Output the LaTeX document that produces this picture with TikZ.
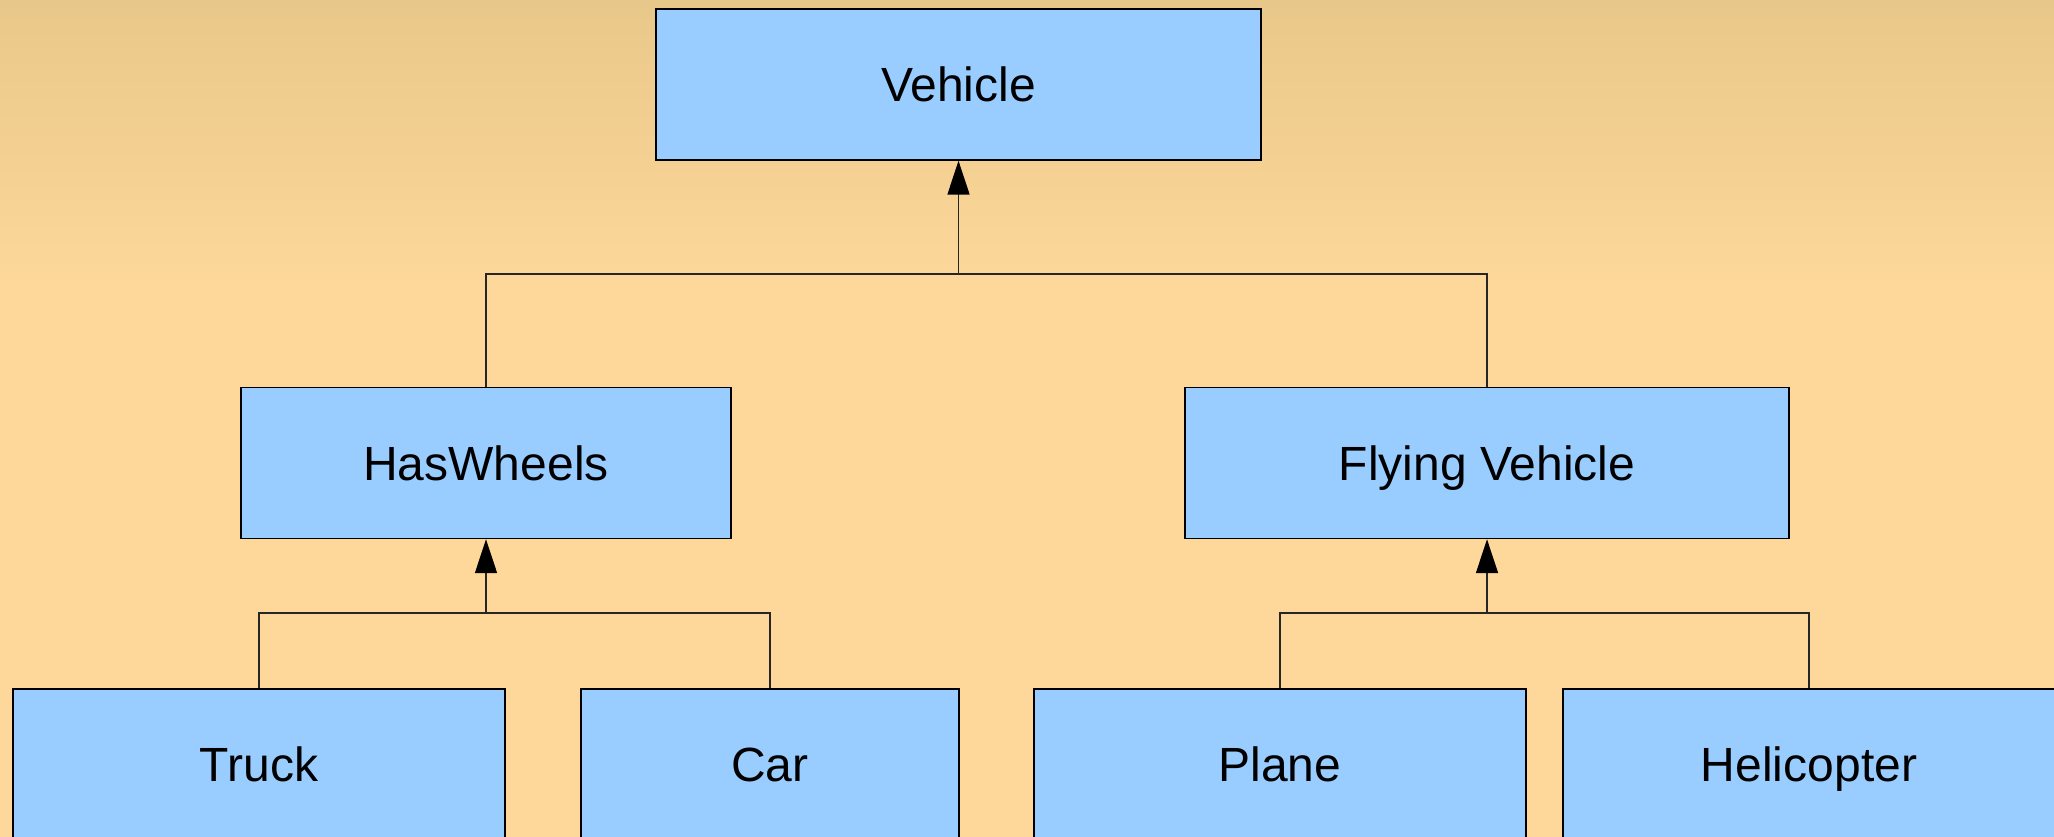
\documentclass[tikz,border=0pt]{standalone}
\usepackage{fontspec}
\setmainfont{Liberation Sans}
\usetikzlibrary{arrows.meta}
\definecolor{bgtop}{RGB}{232,200,138}
\definecolor{bgbot}{RGB}{253,216,154}
\definecolor{boxblue}{RGB}{153,204,255}
\tikzset{
  cls/.style={draw=black, line width=1.4pt, fill=boxblue, inner sep=0pt,
    minimum height=151pt, text height=34.4pt, text depth=0pt,
    font=\fontsize{48}{58}\selectfont},
  link/.style={draw=black!85, line width=1.6pt},
  inherit/.style={link, -{Triangle[width=22pt,length=34pt,color=black,fill=black]}}
}
\begin{document}
\begin{tikzpicture}[x=1pt,y=-1pt]
\useasboundingbox (0,0) rectangle (2054,837);
\clip (0,0) rectangle (2054,837);
\shade[top color=bgtop, bottom color=bgbot] (0,0) rectangle (2054,290);
\fill[bgbot] (0,289) rectangle (2054,837);
\node[cls, minimum width=605pt] (veh) at (958.5,84.5) {Vehicle};
\node[cls, minimum width=490pt] (hw) at (486,463) {HasWheels};
\node[cls, minimum width=604pt] (fv) at (1487,463) {Flying Vehicle};
\node[cls, minimum width=492pt] (truck) at (259,764.5) {Truck};
\node[cls, minimum width=378pt] (car) at (770,764.5) {Car};
\node[cls, minimum width=492pt] (plane) at (1280,764.5) {Plane};
\node[cls, minimum width=492pt] (heli) at (1809,764.5) {Helicopter};
\coordinate (vj) at (958.5,274);
\coordinate (hwj) at (486,613);
\coordinate (fvj) at (1487,613);
\draw[link] (hw.north) |- (vj) -| (fv.north);
\draw[inherit] (vj) -- (veh.south);
\draw[link] (truck.north) |- (hwj) -| (car.north);
\draw[inherit] (hwj) -- (hw.south);
\draw[link] (plane.north) |- (fvj) -| (heli.north);
\draw[inherit] (fvj) -- (fv.south);
\end{tikzpicture}
\end{document}
